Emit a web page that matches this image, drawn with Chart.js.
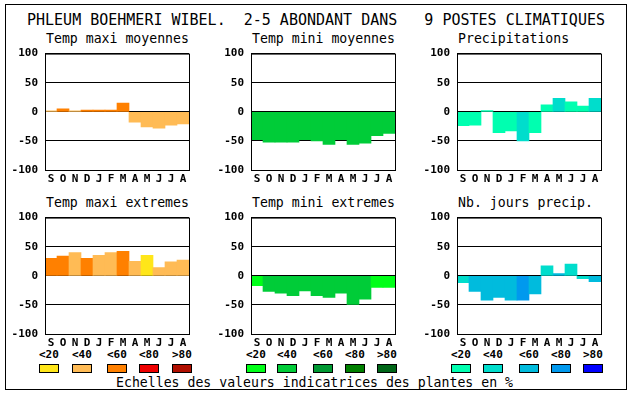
<!DOCTYPE html>
<html>
<head>
<meta charset="utf-8">
<script src="https://cdn.jsdelivr.net/npm/chart.js@4"></script>
<style>
body { margin: 0; background: #fff; }
#page { position: relative; width: 630px; height: 394px; overflow: hidden; font-family: 'DejaVu Sans Mono', monospace; color: #000; }
#frame { position: absolute; left: 5px; top: 4px; width: 622px; height: 386px; border: 1px solid #000; box-sizing: border-box; }
.txt { position: absolute; white-space: pre; line-height: 1; }
.panel { position: absolute; width: 200px; height: 150px; }
.panel canvas { display: block; }
.box { position: absolute; width: 20px; height: 9px; border: 1px solid #000; box-sizing: border-box; top: 364px; }
.lab { position: absolute; top: 349px; font-size: 11px; font-weight: bold; line-height: 1; }
</style>
</head>
<body>
<div id="page">
  <div id="frame"></div>
  <div class="txt" style="left:27px;top:13px;font-size:15px">PHLEUM BOEHMERI WIBEL.  2-5 ABONDANT DANS   9 POSTES CLIMATIQUES</div>
  <div id="legend"></div>
  <div class="txt" style="left:116px;top:376px;font-size:13.2px">Echelles des valeurs indicatrices des plantes en %</div>
</div>
<script>
// categories and tick labels
var months = ['S', 'O', 'N', 'D', 'J', 'F', 'M', 'A', 'M', 'J', 'J', 'A'];
var yTicks = [100, 50, 0, -50, -100];
var classLabels = ['<20', '<40', '<60', '<80', '>80'];

// colour scales (one per column)
var warmScale = ['#ffe619', '#ffbb55', '#ff8000', '#ee0000', '#b00f00'];
var greenScale = ['#00ff18', '#00cc38', '#009933', '#008000', '#006618'];
var blueScale = ['#00ffb0', '#00ddcc', '#00bbdd', '#0099ee', '#0000ff'];

// values per panel
var tempMaxiMoy = [1.5, 5, 1.5, 3, 3, 3, 15, -18, -26, -28, -23, -21];
var tempMiniMoy = [-48, -52, -52, -52, -48, -50, -56, -48, -56, -54, -41, -37];
var precip = [-24, -23, 2, -36, -33, -50, -36, 12, 23, 17, 10, 23];
var tempMaxiExt = [30, 34, 40, 30, 35, 40, 42, 25, 35, 14, 24, 27];
var tempMiniExt = [-17, -27, -30, -34, -26, -34, -37, -30, -49, -40, -20, -20];
var nbJoursPrecip = [-12, -27, -42, -37, -42, -42, -31, 17, 4, 20, -5, -10];

// indicator class (index in the colour scale) of each bar
var tempMaxiMoyCls = [1, 2, 1, 2, 2, 2, 2, 1, 1, 1, 1, 1];
var tempMiniMoyCls = [1, 1, 1, 1, 1, 1, 1, 1, 1, 1, 1, 1];
var precipCls = [0, 0, 0, 0, 0, 1, 0, 0, 1, 0, 0, 1];
var tempMaxiExtCls = [2, 2, 1, 2, 1, 1, 2, 1, 0, 1, 1, 1];
var tempMiniExtCls = [0, 1, 1, 1, 1, 1, 1, 1, 1, 1, 0, 0];
var nbJoursPrecipCls = [1, 2, 2, 2, 2, 3, 2, 1, 2, 1, 1, 2];

var panels = [
  { title: 'Temp maxi moyennes', data: tempMaxiMoy, cls: tempMaxiMoyCls, scale: warmScale, x: 0, y: 40 },
  { title: 'Temp mini moyennes', data: tempMiniMoy, cls: tempMiniMoyCls, scale: greenScale, x: 206, y: 40 },
  { title: 'Precipitations', data: precip, cls: precipCls, scale: blueScale, x: 412, y: 40 },
  { title: 'Temp maxi extremes', data: tempMaxiExt, cls: tempMaxiExtCls, scale: warmScale, x: 0, y: 204 },
  { title: 'Temp mini extremes', data: tempMiniExt, cls: tempMiniExtCls, scale: greenScale, x: 206, y: 204 },
  { title: 'Nb. jours precip.', data: nbJoursPrecip, cls: nbJoursPrecipCls, scale: blueScale, x: 412, y: 204 }
];

// black frame round the plot area
var frame = {
  id: 'frame',
  afterDraw: function (chart) {
    var a = chart.chartArea, c = chart.ctx;
    c.save();
    c.strokeStyle = '#000';
    c.lineWidth = 1;
    c.strokeRect(a.left + 0.5, a.top + 0.5, a.right - a.left, a.bottom - a.top);
    c.restore();
  }
};

var page = document.getElementById('page');
var tickFont = { family: 'DejaVu Sans Mono', weight: 'bold', size: 11 };

panels.forEach(function (p) {
  var t = document.createElement('div');
  t.className = 'txt';
  t.style.left = (p.x + 46) + 'px';
  t.style.top = (p.y - 8) + 'px';
  t.style.fontSize = '13.2px';
  t.textContent = p.title;
  page.appendChild(t);

  var wrap = document.createElement('div');
  wrap.className = 'panel';
  wrap.style.left = p.x + 'px';
  wrap.style.top = p.y + 'px';
  var cv = document.createElement('canvas');
  cv.width = 200;
  cv.height = 150;
  cv.style.width = '200px';
  cv.style.height = '150px';
  wrap.appendChild(cv);
  page.appendChild(wrap);

  new Chart(cv.getContext('2d'), {
    type: 'bar',
    data: {
      labels: months,
      datasets: [{
        data: p.data,
        backgroundColor: p.cls.map(function (k) { return p.scale[k]; }),
        borderWidth: 0,
        categoryPercentage: 1,
        barPercentage: 1
      }]
    },
    options: {
      responsive: false,
      maintainAspectRatio: false,
      animation: false,
      devicePixelRatio: 1,
      layout: { padding: { top: 10, right: 11, left: 0, bottom: 0 } },
      plugins: { legend: { display: false }, tooltip: { enabled: false } },
      scales: {
        x: {
          grid: { display: false, drawTicks: false },
          border: { display: false },
          ticks: { color: '#000', font: tickFont, padding: 3, maxRotation: 0, autoSkip: false },
          afterFit: function (s) { s.height = 20; }
        },
        y: {
          min: -100,
          max: 100,
          z: 1,
          grid: { color: '#000', lineWidth: 1, drawTicks: false },
          border: { display: false },
          ticks: { color: '#000', font: tickFont, padding: 7 },
          afterBuildTicks: function (s) { s.ticks = yTicks.map(function (v) { return { value: v }; }); },
          afterFit: function (s) { s.width = 45; }
        }
      }
    },
    plugins: [frame]
  });
});

// legend boxes under each column
var legend = document.getElementById('legend');
var legendCols = [
  { scale: warmScale, xs: [39, 72, 107, 139, 172] },
  { scale: greenScale, xs: [246, 277, 313, 345, 377] },
  { scale: blueScale, xs: [451, 483, 519, 551, 583] }
];
legendCols.forEach(function (col) {
  col.xs.forEach(function (x, i) {
    var b = document.createElement('div');
    b.className = 'box';
    b.style.left = x + 'px';
    b.style.background = col.scale[i];
    legend.appendChild(b);
    var l = document.createElement('div');
    l.className = 'lab';
    l.style.left = x + 'px';
    l.textContent = classLabels[i];
    legend.appendChild(l);
  });
});
</script>
</body>
</html>
